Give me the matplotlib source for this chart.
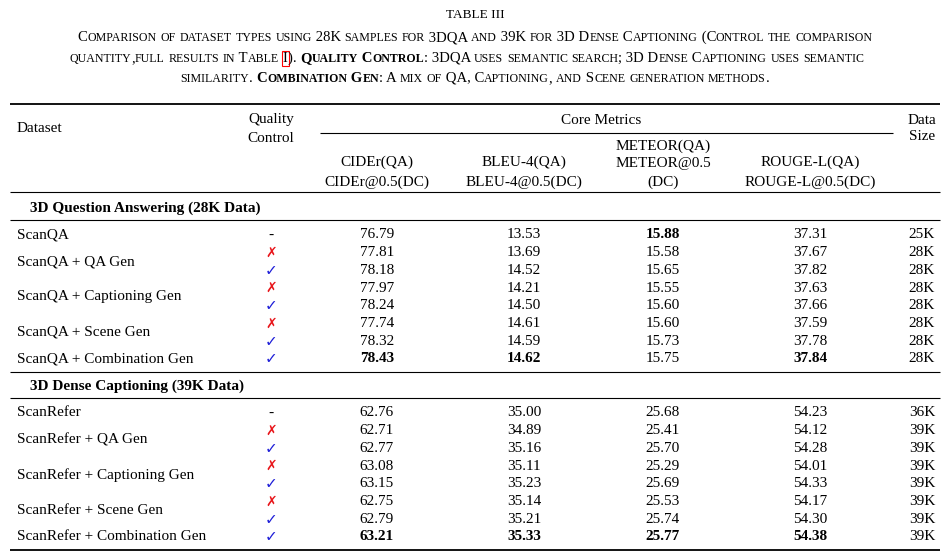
import matplotlib
matplotlib.use("Agg")
import matplotlib.pyplot as plt

FONT = "Liberation Serif"
qa_rows = ["ScanQA", "ScanQA + QA Gen", "ScanQA + Captioning Gen", "ScanQA + Scene Gen", "ScanQA + Combination Gen"]
qa_qc = ["-", "x", "v", "x", "v", "x", "v", "v"]
qa_cider = ["76.79", "77.81", "78.18", "77.97", "78.24", "77.74", "78.32", "78.43"]
qa_bleu = ["13.53", "13.69", "14.52", "14.21", "14.50", "14.61", "14.59", "14.62"]
qa_meteor = ["15.88", "15.58", "15.65", "15.55", "15.60", "15.60", "15.73", "15.75"]
qa_rouge = ["37.31", "37.67", "37.82", "37.63", "37.66", "37.59", "37.78", "37.84"]
qa_size = ["25K", "28K", "28K", "28K", "28K", "28K", "28K", "28K"]
qa_bold = [(0, 2), (7, 0), (7, 1), (7, 3)]

dc_rows = ["ScanRefer", "ScanRefer + QA Gen", "ScanRefer + Captioning Gen", "ScanRefer + Scene Gen", "ScanRefer + Combination Gen"]
dc_qc = ["-", "x", "v", "x", "v", "x", "v", "v"]
dc_cider = ["62.76", "62.71", "62.77", "63.08", "63.15", "62.75", "62.79", "63.21"]
dc_bleu = ["35.00", "34.89", "35.16", "35.11", "35.23", "35.14", "35.21", "35.33"]
dc_meteor = ["25.68", "25.41", "25.70", "25.29", "25.69", "25.53", "25.74", "25.77"]
dc_rouge = ["54.23", "54.12", "54.28", "54.01", "54.33", "54.17", "54.30", "54.38"]
dc_size = ["36K", "39K", "39K", "39K", "39K", "39K", "39K", "39K"]
dc_bold = [(7, 0), (7, 1), (7, 2), (7, 3)]

fig = plt.figure(figsize=(9.5, 5.56), dpi=100)
ax = fig.add_axes([0, 0, 1, 1])
ax.set_xlim(0, 950); ax.set_ylim(556, 0); ax.axis("off")
fig.canvas.draw()
R = fig.canvas.get_renderer()

def sc(xc, y, segs, big=10.6, small=8.6):
    arts = []
    x = 0
    for text, bold, box in segs:
        runs = []
        for ch in text:
            lo = ch.islower()
            if runs and runs[-1][1] == lo:
                runs[-1][0] += ch
            else:
                runs.append([ch, lo])
        for t, lo in runs:
            a = ax.text(x, y, t.upper(), fontsize=small if lo else big, family=FONT,
                        weight="bold" if bold else "normal", va="baseline", ha="left")
            if box:
                a.set_bbox(dict(facecolor="none", edgecolor="red", pad=0.6, lw=0.8))
            w = a.get_window_extent(R).width
            arts.append((a, x)); x += w
    for a, xx in arts:
        a.set_x(xc - x / 2 + xx)

ax.text(475, 18, "TABLE III", fontsize=9.5, family=FONT, ha="center", va="baseline")
sc(475, 41, [("Comparison of dataset types using 28K samples for 3DQA and 39K for 3D Dense Captioning (Control the comparison", False, False)])
sc(467, 62, [("quantity,full results in Table ", False, False), ("I", False, True), ("). ", False, False),
             ("Quality Control", True, False), (": 3DQA uses semantic search; 3D Dense Captioning uses semantic", False, False)])
sc(475, 82, [("similarity. ", False, False), ("Combination Gen", True, False),
             (": A mix of QA, Captioning, and Scene generation methods.", False, False)])

fs = 11
def t(x, y, s, ha="center", bold=False, color="black", family=FONT, size=fs):
    ax.text(x, y, s, fontsize=size, family=family, ha=ha, va="center",
            weight="bold" if bold else "normal", color=color)

def hline(y, x0=10, x1=940, lw=1.0):
    ax.plot([x0, x1], [y, y], color="black", lw=lw, solid_capstyle="butt")

hline(104, lw=1.3)
t(17, 129, "Dataset", ha="left")
t(271, 119, "Quality"); t(271, 139, "Control")
t(601, 121, "Core Metrics")
hline(133, 320, 893, lw=0.8)
t(922, 120, "Data"); t(922, 137, "Size")
cx = [377, 524, 663, 810]
t(cx[0], 162, "CIDEr(QA)"); t(cx[0], 182, "CIDEr@0.5(DC)")
t(cx[1], 162, "BLEU-4(QA)"); t(cx[1], 182, "BLEU-4@0.5(DC)")
t(cx[2], 146, "METEOR(QA)"); t(cx[2], 164, "METEOR@0.5"); t(cx[2], 182, "(DC)")
t(cx[3], 162, "ROUGE-L(QA)"); t(cx[3], 182, "ROUGE-L@0.5(DC)")
hline(192, lw=0.8)

def section(y0, title, rows, qc, cols, size, bolds):
    t(30, y0, title, ha="left", bold=True)
    hline(y0 + 12, lw=0.8)
    ys = [y0 + 27 + i * 17.7 for i in range(8)]
    lab_y = [ys[0], (ys[1] + ys[2]) / 2, (ys[3] + ys[4]) / 2, (ys[5] + ys[6]) / 2, ys[7]]
    for name, ly in zip(rows, lab_y):
        t(17, ly, name, ha="left")
    for i, y in enumerate(ys):
        q = qc[i]
        if q == "-":
            t(271, y, "-")
        elif q == "x":
            t(271, y, "✗", color="#e8161b", family="DejaVu Sans", size=10)
        else:
            t(271, y, "✓", color="#1f1fd8", family="DejaVu Sans", size=11)
        for j, col in enumerate(cols):
            t(cx[j], y, col[i], bold=(i, j) in bolds)
        t(922, y, size[i])

section(208, "3D Question Answering (28K Data)", qa_rows, qa_qc,
        [qa_cider, qa_bleu, qa_meteor, qa_rouge], qa_size, qa_bold)
hline(372, lw=0.8)
section(386, "3D Dense Captioning (39K Data)", dc_rows, dc_qc,
        [dc_cider, dc_bleu, dc_meteor, dc_rouge], dc_size, dc_bold)
hline(550, lw=1.3)

fig.savefig("out.png", dpi=100)
